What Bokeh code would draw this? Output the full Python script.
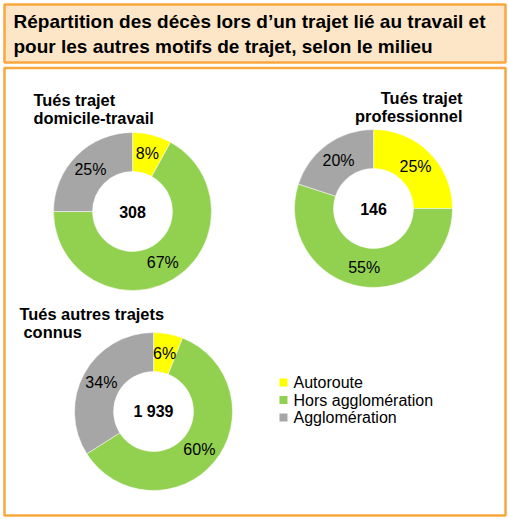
import math
from bokeh.plotting import figure
from bokeh.models import Range1d, ColumnDataSource
from bokeh.core.properties import value
from bokeh.embed import file_html
from bokeh.resources import INLINE

# ---- data ----
categories = ["Autoroute", "Hors agglomération", "Agglomération"]
colors = ["#FFFF00", "#92D050", "#A6A6A6"]
domicile_travail = [8, 67, 25]
professionnel = [25, 55, 20]
autres = [6, 60, 34]
totals = ["308", "146", "1 939"]
chart_titles = [["Tués trajet", "domicile-travail"],
                ["Tués trajet", "professionnel"],
                ["Tués autres trajets", "connus"]]
main_title = ["Répartition des décès lors d\u2019un trajet lié au travail et",
              "pour les autres motifs de trajet, selon le milieu"]

# ---- layout (reference pixel space, y downward) ----
W, H = 508, 519
FONT = value("Liberation Sans")


def Y(y):
    return H - y


p = figure(width=W, height=H, output_backend="svg", toolbar_location=None,
           x_range=Range1d(0, W), y_range=Range1d(0, H), min_border=0)
p.axis.visible = False
p.grid.visible = False
p.outline_line_color = None
p.background_fill_color = "white"
p.border_fill_color = "white"

ORANGE = "#F9A73E"
# title box
p.quad(left=[4], right=[505], top=[Y(4)], bottom=[Y(62)],
       fill_color="#FDE6C8", line_color=ORANGE, line_width=2.5)
# frame box
p.quad(left=[4], right=[505], top=[Y(67.5)], bottom=[Y(515)],
       fill_color="white", line_color=ORANGE, line_width=2.5)

p.text(x=[13, 13], y=[Y(20.5), Y(46)], text=main_title, text_font=FONT,
       text_font_style="bold", text_font_size="19px", text_color="black",
       text_baseline="middle", text_align="left")

R_OUT, R_IN = 79, 40
R_LAB = (R_OUT + R_IN) / 2
donuts = [
    dict(vals=domicile_travail, cx=132, cy=211, total=totals[0]),
    dict(vals=professionnel, cx=373, cy=208, total=totals[1]),
    dict(vals=autres, cx=153, cy=411, total=totals[2]),
]
for d in donuts:
    vals = d["vals"]
    s = sum(vals)
    cum = 0.0
    starts, ends, lx, ly, labs = [], [], [], [], []
    for v in vals:
        a0 = math.pi / 2 - 2 * math.pi * cum / s
        a1 = math.pi / 2 - 2 * math.pi * (cum + v) / s
        starts.append(a0)
        ends.append(a1)
        mid = (a0 + a1) / 2
        lx.append(d["cx"] + R_LAB * math.cos(mid))
        ly.append(Y(d["cy"]) + R_LAB * math.sin(mid))
        labs.append(f"{v}%")
        cum += v
    src = ColumnDataSource(dict(x=[d["cx"]] * 3, y=[Y(d["cy"])] * 3,
                                s=starts, e=ends, c=colors))
    p.annular_wedge(x="x", y="y", inner_radius=R_IN, outer_radius=R_OUT,
                    start_angle="s", end_angle="e", direction="clock",
                    fill_color="c", line_color="white", line_width=0.5,
                    source=src)
    p.text(x=lx, y=ly, text=labs, text_font=FONT, text_font_size="16px",
           text_color="black", text_align="center", text_baseline="middle")
    p.text(x=[d["cx"]], y=[Y(d["cy"])], text=[d["total"]], text_font=FONT,
           text_font_style="bold", text_font_size="16px", text_color="black",
           text_align="center", text_baseline="middle")

# chart titles
p.text(x=[33, 33], y=[Y(99.5), Y(117.5)], text=chart_titles[0], text_font=FONT,
       text_font_style="bold", text_font_size="16.4px", text_color="black",
       text_align="left", text_baseline="middle")
p.text(x=[462, 462], y=[Y(97.5), Y(115.5)], text=chart_titles[1], text_font=FONT,
       text_font_style="bold", text_font_size="16.4px", text_color="black",
       text_align="right", text_baseline="middle")
p.text(x=[19, 23], y=[Y(313), Y(331)], text=chart_titles[2], text_font=FONT,
       text_font_style="bold", text_font_size="16.4px", text_color="black",
       text_align="left", text_baseline="middle")

# legend
leg_y = [382, 399.5, 417]
p.rect(x=[283] * 3, y=[Y(v) for v in leg_y], width=8, height=8,
       fill_color=colors, line_color=None)
p.text(x=[293] * 3, y=[Y(v) for v in leg_y], text=categories, text_font=FONT,
       text_font_size="16px", text_color="black", text_align="left",
       text_baseline="middle")

open("out.html", "w").write(file_html(p, INLINE))
